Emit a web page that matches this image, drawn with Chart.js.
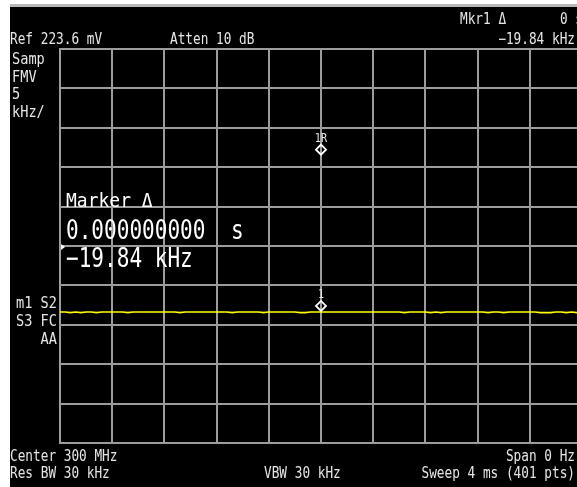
<!DOCTYPE html>
<html>
<head>
<meta charset="utf-8">
<title>Spectrum Analyzer - FM Demod</title>
<script src="https://cdn.jsdelivr.net/npm/chart.js@4.4.1/dist/chart.umd.min.js"></script>
<style>
    html, body { margin: 0; padding: 0; background: #fff; overflow: hidden; }
    #wrap { position: absolute; left: 0; top: 0; width: 600px; height: 487px; }
</style>
</head>
<body>
<div id="wrap"><canvas id="sa-chart" width="600" height="487"></canvas></div>
<script>
// Trace: FM demod deviation (kHz), 101 samples over the 4 ms sweep
var traceKHz = [
    -8.38, -8.38, -8.46, -8.38, -8.46, -8.38, -8.38, -8.46, -8.38, -8.38,
    -8.38, -8.38, -8.38, -8.46, -8.38, -8.38, -8.38, -8.38, -8.38, -8.38,
    -8.38, -8.38, -8.38, -8.46, -8.38, -8.38, -8.38, -8.38, -8.38, -8.38,
    -8.38, -8.38, -8.38, -8.46, -8.38, -8.38, -8.38, -8.38, -8.38, -8.46,
    -8.38, -8.38, -8.38, -8.38, -8.38, -8.38, -8.46, -8.46, -8.38, -8.38,
    -8.38, -8.38, -8.38, -8.38, -8.38, -8.38, -8.38, -8.38, -8.38, -8.38,
    -8.38, -8.38, -8.38, -8.38, -8.38, -8.38, -8.46, -8.38, -8.38, -8.38,
    -8.38, -8.46, -8.38, -8.46, -8.38, -8.38, -8.38, -8.38, -8.38, -8.38,
    -8.38, -8.38, -8.46, -8.38, -8.38, -8.46, -8.38, -8.38, -8.38, -8.38,
    -8.38, -8.38, -8.46, -8.46, -8.46, -8.38, -8.38, -8.46, -8.38, -8.46,
    -8.38
];
var sweepMs = 4;

// Markers: 1R reference and 1 delta
var markerLabels = ['1R', '1'];
var markerTimeMs = [2.0, 2.0];
var markerKHz = [12.23, -7.61];

// Axis ticks: 10 divisions, 5 kHz/div
var xTicksMs = [0, 0.4, 0.8, 1.2, 1.6, 2.0, 2.4, 2.8, 3.2, 3.6, 4.0];
var yTicksKHz = [-25, -20, -15, -10, -5, 0, 5, 10, 15, 20, 25];

// Annotation text
var headerTop = ['Mkr1 \u0394', '0 s'];
var headerLine = ['Ref 223.6 mV', 'Atten 10 dB', '\u221219.84 kHz'];
var leftTop = ['Samp', 'FMV', '5', 'kHz/'];
var leftBottom = ['m1 S2', 'S3 FC', 'AA'];
var footerLine1 = ['Center 300 MHz', 'Span 0 Hz'];
var footerLine2 = ['Res BW 30 kHz', 'VBW 30 kHz', 'Sweep 4 ms (401 pts)'];
var markerReadout = ['Marker \u0394', '0.000000000', 's', '\u221219.84 kHz'];

(function() {
    'use strict';

    var FONT = '"DejaVu Sans Mono", "Liberation Mono", monospace';
    var TEXT = '#e6e6e6';

    var SAChart = {

        /**
         * Draw a horizontally condensed text run
         */
        text: function(ctx, str, x, y, size, sx, align, color) {
            ctx.save();
            ctx.font = size + 'px ' + FONT;
            ctx.fillStyle = color || TEXT;
            ctx.textAlign = align || 'left';
            ctx.textBaseline = 'alphabetic';
            ctx.translate(x, y);
            ctx.scale(sx, 1);
            ctx.fillText(str, 0, 0);
            ctx.restore();
        },

        /**
         * Screen background + title strip
         */
        backgroundPlugin: {
            id: 'saBackground',
            beforeDraw: function(chart) {
                var ctx = chart.ctx;
                ctx.save();
                ctx.fillStyle = '#ffffff';
                ctx.fillRect(0, 0, chart.width, chart.height);
                ctx.fillStyle = '#b8b8b8';
                ctx.fillRect(10, 4, chart.width - 10, 3);
                ctx.fillStyle = '#000000';
                ctx.fillRect(10, 7, chart.width - 10, chart.height - 7);
                ctx.restore();
            }
        },

        /**
         * Annotations, marker labels and readout
         */
        annotationPlugin: {
            id: 'saAnnotations',
            afterDraw: function(chart) {
                var ctx = chart.ctx;
                var t = SAChart.text;
                var xs = chart.scales.x;
                var ys = chart.scales.y;
                var area = chart.chartArea;
                var i;

                // header
                t(ctx, headerTop[0], 460, 24, 15, 0.85);
                t(ctx, headerTop[1], 560, 24, 15, 0.85);
                t(ctx, headerLine[0], 10, 44, 15, 0.85);
                t(ctx, headerLine[1], 170, 44, 15, 0.85);
                t(ctx, headerLine[2], 575, 44, 15, 0.85, 'right');

                // left side labels
                for (i = 0; i < leftTop.length; i++) {
                    t(ctx, leftTop[i], 12, 64 + i * 17.5, 16, 0.85);
                }
                for (i = 0; i < leftBottom.length; i++) {
                    t(ctx, leftBottom[i], 57, 308 + i * 18, 16, 0.85, 'right');
                }

                // footer
                t(ctx, footerLine1[0], 10, 461, 15, 0.85);
                t(ctx, footerLine1[1], 575, 461, 15, 0.85, 'right');
                t(ctx, footerLine2[0], 10, 478, 15, 0.85);
                t(ctx, footerLine2[1], 264, 478, 15, 0.85);
                t(ctx, footerLine2[2], 575, 478, 15, 0.85, 'right');

                // marker labels above diamonds
                for (i = 0; i < markerLabels.length; i++) {
                    t(ctx, markerLabels[i], xs.getPixelForValue(markerTimeMs[i]),
                        ys.getPixelForValue(markerKHz[i]) - 8, 12, 0.85, 'center');
                }

                // marker readout
                t(ctx, markerReadout[0], 66, 207, 20, 0.9, 'left', '#ffffff');
                t(ctx, markerReadout[1], 66, 239, 27, 0.78, 'left', '#ffffff');
                t(ctx, markerReadout[2], 231, 239, 27, 0.78, 'left', '#ffffff');
                t(ctx, markerReadout[3], 66, 267, 27, 0.78, 'left', '#ffffff');

                // reference arrow on the left edge
                ctx.save();
                ctx.fillStyle = '#ffffff';
                ctx.beginPath();
                ctx.moveTo(area.left + 1, 244);
                ctx.lineTo(area.left + 5, 247);
                ctx.lineTo(area.left + 1, 250);
                ctx.closePath();
                ctx.fill();
                ctx.restore();
            }
        },

        /**
         * Render the analyzer screen
         */
        render: function() {
            var ctx = document.getElementById('sa-chart').getContext('2d');
            var step = sweepMs / (traceKHz.length - 1);

            var trace = traceKHz.map(function(v, i) { return { x: i * step, y: v }; });
            var markers = markerKHz.map(function(v, i) { return { x: markerTimeMs[i], y: v }; });

            var gridOpts = {
                color: '#9c9c9c',
                lineWidth: 2,
                drawTicks: false
            };

            new Chart(ctx, {
                type: 'scatter',
                data: {
                    datasets: [{
                        label: 'Markers',
                        data: markers,
                        pointStyle: 'rectRot',
                        pointRadius: 5,
                        pointBorderWidth: 1.8,
                        pointBorderColor: '#ffffff',
                        pointBackgroundColor: 'rgba(0,0,0,0)',
                        showLine: false
                    }, {
                        label: 'Trace',
                        data: trace,
                        showLine: true,
                        borderColor: '#ffff00',
                        borderWidth: 1.6,
                        pointRadius: 0,
                        tension: 0
                    }]
                },
                options: {
                    responsive: false,
                    animation: false,
                    devicePixelRatio: 1,
                    layout: {
                        padding: { left: 60, top: 49, right: 18, bottom: 44 }
                    },
                    plugins: {
                        legend: { display: false },
                        tooltip: { enabled: false }
                    },
                    scales: {
                        x: {
                            type: 'linear',
                            min: xTicksMs[0],
                            max: xTicksMs[xTicksMs.length - 1],
                            afterBuildTicks: function(axis) {
                                axis.ticks = xTicksMs.map(function(v) { return { value: v }; });
                            },
                            ticks: { display: false },
                            grid: gridOpts,
                            border: { display: true, color: '#9c9c9c', width: 2 }
                        },
                        y: {
                            type: 'linear',
                            min: yTicksKHz[0],
                            max: yTicksKHz[yTicksKHz.length - 1],
                            afterBuildTicks: function(axis) {
                                axis.ticks = yTicksKHz.map(function(v) { return { value: v }; });
                            },
                            ticks: { display: false },
                            grid: gridOpts,
                            border: { display: true, color: '#9c9c9c', width: 2 }
                        }
                    }
                },
                plugins: [this.backgroundPlugin, this.annotationPlugin]
            });
        }
    };

    SAChart.render();
})();
</script>
</body>
</html>
